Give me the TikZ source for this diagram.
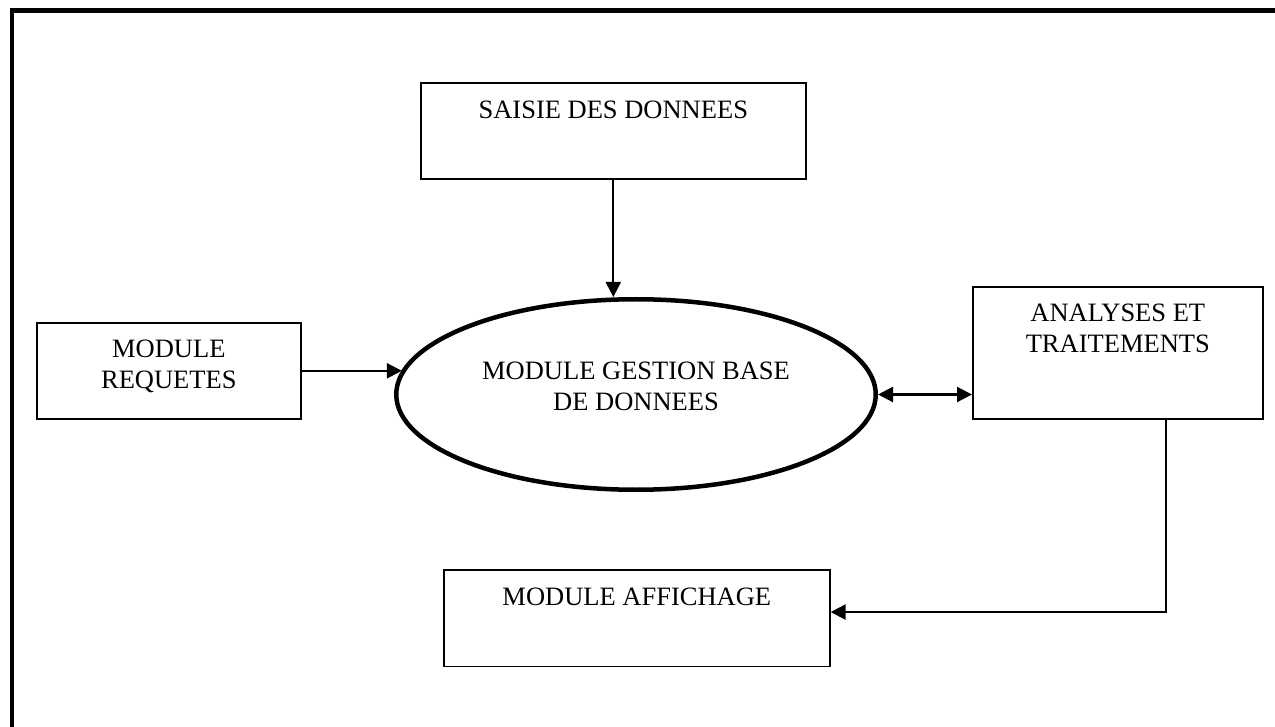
\documentclass[tikz,border=0pt]{standalone}
\usepackage{fontspec}
\setmainfont{Liberation Serif}
\usetikzlibrary{shapes.geometric}
\usetikzlibrary{arrows.meta}
\tikzset{box/.style={draw,line width=1.6pt,rectangle,inner sep=0pt,anchor=north west},
 base/.style={draw,line width=4.5pt,ellipse,inner sep=0pt,minimum width=479.5pt,minimum height=190.5pt,
   text height=20pt,text depth=49pt},
 link/.style={line width=2.2pt},
 frame/.style={line width=4.8pt},
 >={Triangle[length=15pt,width=15pt]},
 }
\newcommand{\twolines}[2]{\begin{tabular}[t]{@{}c@{}}#1\\#2\end{tabular}}

\begin{document}
\begin{tikzpicture}[x=1pt,y=-1pt,font=\fontsize{26.5}{31}\selectfont]
        \useasboundingbox (0,0) rectangle (1275,727);
        \draw [frame] (12,727) -- (12,10.5) -- (1275,10.5);
        \node [box, minimum width=385pt, text height=36pt, text depth=60pt] (saisie) at (420,82) {SAISIE DES DONNEES};
        \node [box, minimum width=264pt, text height=35pt, text depth=61pt] (requetes) at (36,322) {\twolines{MODULE}{REQUETES}};
        \node [box, minimum width=290pt, text height=35pt, text depth=97pt] (analyses) at (972,286) {\twolines{ANALYSES ET}{TRAITEMENTS}};
        \node [box, minimum width=386pt, text height=36pt, text depth=60.5pt] (affichage) at (443,569) {MODULE AFFICHAGE};
        \node [base] (db) at (636,394.5) {\twolines{MODULE GESTION BASE}{DE DONNEES}};
        \draw [link, ->] (saisie.south) -- (saisie.south |- db.north);
        \draw [link, ->] (requetes.east) -- (requetes.east -| db.174);
        \draw [link, <->] (db.east) -- (db.east -| analyses.west);
        \draw [link, ->] ([xshift=48pt]analyses.south) |- ([yshift=6pt]affichage.east);
    \end{tikzpicture}
\end{document}
